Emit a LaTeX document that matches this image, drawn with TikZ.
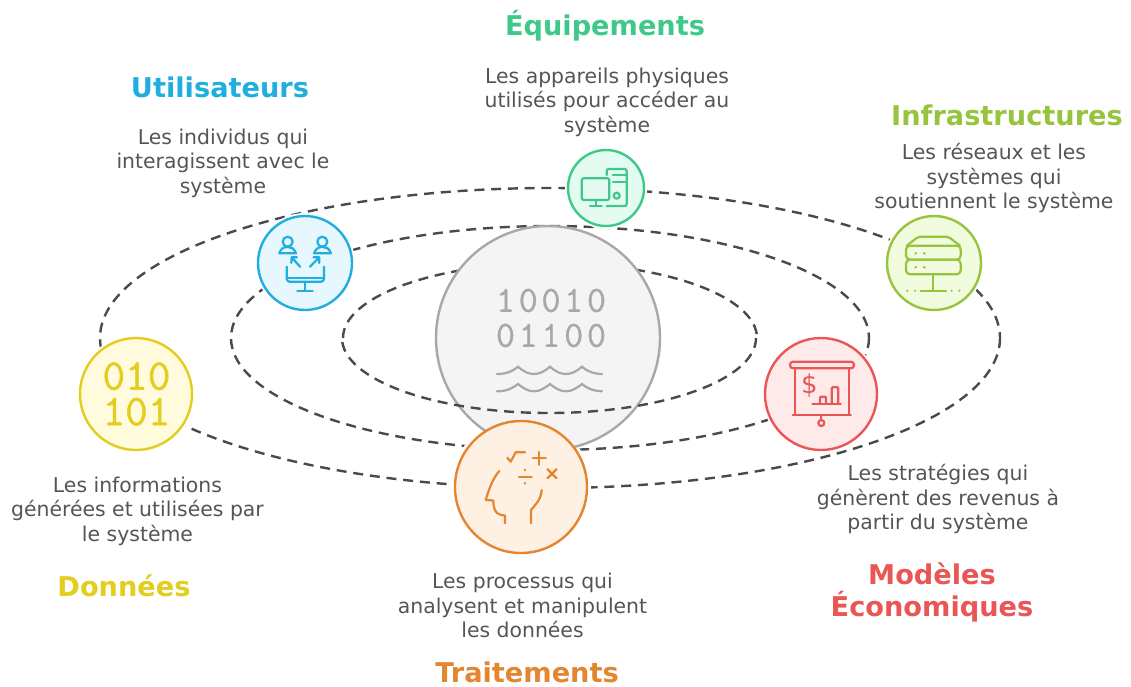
\documentclass[tikz,border=0pt]{standalone}
\usepackage{fontspec}
\setmainfont{DejaVu Sans}
\newfontfamily\digitfont[FakeBold=1]{Latin Modern Mono}
\definecolor{cgreen}{HTML}{3EC98A}
\definecolor{cblue}{HTML}{1FAEDF}
\definecolor{clime}{HTML}{96C43C}
\definecolor{cred}{HTML}{EA5555}
\definecolor{corange}{HTML}{E3862F}
\definecolor{cyellow}{HTML}{E3CD1D}
\definecolor{fgreen}{HTML}{E4FBF1}
\definecolor{fblue}{HTML}{E6F7FE}
\definecolor{flime}{HTML}{F1FCDF}
\definecolor{fred}{HTML}{FFEAEA}
\definecolor{forange}{HTML}{FFF0E4}
\definecolor{fyellow}{HTML}{FFFBDC}
\definecolor{fcore}{HTML}{F4F4F4}
\definecolor{bodygray}{HTML}{555555}
\definecolor{dashgray}{HTML}{4A4A4A}
\definecolor{centergray}{HTML}{A8A8A8}
\tikzset{
  orbit/.style={draw=dashgray,line width=2.4pt,dash pattern=on 10pt off 6.8pt},
  badge/.style={circle,inner sep=0pt,line width=2.4pt,preaction={draw=white,line width=6pt}},
  hub/.style={circle,inner sep=0pt,line width=2.4pt},
  bodytext/.style={text=bodygray,align=center,inner sep=0pt,font=\fontsize{20.4}{24.5}\selectfont},
  titletext/.style={align=center,inner sep=0pt,font=\fontsize{27.2}{32}\selectfont\bfseries},
  icon/.style={line width=2.2pt,line cap=round,line join=round,fill=none},
}
\begin{document}
\begin{tikzpicture}[x=1pt,y=-1pt]
\useasboundingbox (0,0) rectangle (1131,686);
% orbits
\draw[orbit] (550,338) ellipse [x radius=450,y radius=150];
\draw[orbit] (550,338) ellipse [x radius=319,y radius=112];
\draw[orbit] (343,338) arc [start angle=180,end angle=360,x radius=207,y radius=75];
\fill[white] (521,487) circle (70);
% centre
\node[hub,draw=centergray,fill=fcore,minimum size=224pt] (core) at (548,338) {};
\draw[orbit] (756,338) arc [start angle=0,end angle=180,x radius=207,y radius=75];
\node[text=centergray,inner sep=0pt,font={\digitfont\fontsize{37}{35}\selectfont\addfontfeature{LetterSpace=10}},align=center] (bits) at (551,318) {10010\\01100};
\draw[centergray,line width=2.2pt,line cap=round]
  (497,374) .. controls (507,374) and (513,371) .. (518,366.7)
  .. controls (524,372) and (529,374) .. (534,374)
  .. controls (540,374) and (545,371) .. (550,366.7)
  .. controls (556,372) and (561,374) .. (566,374)
  .. controls (572,374) and (577,371) .. (582,366.7)
  .. controls (588,372) and (595,374) .. (602,374);
\draw[centergray,line width=2.2pt,line cap=round]
  (497,391.3) .. controls (507,391.3) and (513,388) .. (518,384)
  .. controls (524,389) and (529,391.3) .. (534,391.3)
  .. controls (540,391.3) and (545,388) .. (550,384)
  .. controls (556,389) and (561,391.3) .. (566,391.3)
  .. controls (572,391.3) and (577,388) .. (582,384)
  .. controls (588,389) and (595,391.3) .. (602,391.3);
% badges
\node[badge,draw=cgreen,fill=fgreen,minimum size=76pt] (equip) at (606,188) {};
\node[badge,draw=cblue,fill=fblue,minimum size=94pt] (users) at (305,263) {};
\node[badge,draw=clime,fill=flime,minimum size=94pt] (infra) at (934,263) {};
\node[badge,draw=cred,fill=fred,minimum size=112pt] (model) at (821,394) {};
\node[badge,draw=cyellow,fill=fyellow,minimum size=112pt] (data) at (136,394) {};
\node[hub,draw=corange,fill=forange,minimum size=132pt] (proc) at (521,487) {};
% equipment icon
\draw[icon,cgreen,rounded corners=2pt] (581.7,178.3) rectangle (609.3,200);
\draw[icon,cgreen] (595.7,200) -- (595.7,206) (590,206) -- (601.7,206);
\draw[icon,cgreen,rounded corners=2pt] (606.7,175) -- (606.7,169) -- (626.7,169) -- (626.7,206) -- (606.7,206);
\draw[icon,cgreen] (613,175) -- (626.7,175) (613,181.7) -- (626.7,181.7);
\draw[icon,cgreen] (616.7,195.7) circle (3);
% users icon
\draw[icon,cblue] (287.7,241.7) circle (5) (322.3,241.7) circle (5);
\draw[icon,cblue] (279.3,253.3) .. controls (281,248) and (284,247) .. (287.7,247) .. controls (291,247) and (294,248) .. (296,253.3) -- cycle;
\draw[icon,cblue] (314,253.3) .. controls (316,248) and (319,247) .. (322.7,247) .. controls (326,247) and (329,248) .. (331,253.3) -- cycle;
\draw[icon,cblue] (300,266.7) -- (291.7,257.3) (291.3,263) -- (291.7,257.3) -- (297,257.3);
\draw[icon,cblue] (310,266.7) -- (319.3,257.3) (313.5,257.3) -- (319.3,257.3) -- (319.3,263);
\draw[icon,cblue,rounded corners=3pt] (286.7,266.7) -- (286.7,281.7) -- (324,281.7) -- (324,266.7);
\draw[icon,cblue] (286.7,278) -- (324,278) (305,282) -- (305,290.7) (297.3,290.7) -- (312.7,290.7);
% infrastructure icon
\draw[icon,clime,rounded corners=2pt] (906.7,245.7) -- (918.3,236.7) -- (948.3,236.7) -- (960,245.7);
\draw[icon,clime,rounded corners=4pt] (906,245.7) rectangle (960.7,259.6);
\draw[icon,clime,rounded corners=4pt] (906,259.6) rectangle (960.7,274.3);
\fill[clime] (915.7,253.3) circle (1.4) (924.3,253.3) circle (1.4) (915.7,267.3) circle (1.4) (924.3,267.3) circle (1.4)
  (907.3,290.7) circle (1.2) (915,290.7) circle (1.2) (951.7,290.7) circle (1.2) (959.3,290.7) circle (1.2);
\draw[icon,clime] (933.3,274.3) -- (933.3,290.7) (920.7,290.7) -- (946,290.7);
% model icon
\draw[icon,cred,rounded corners=3pt] (790,361.7) rectangle (854,368.3);
\draw[icon,cred] (795,368.3) -- (795,415) (849.3,368.3) -- (849.3,415) (792.7,415) -- (850.7,415);
\draw[icon,cred] (821.3,415) -- (821.3,420);
\draw[icon,cred] (821.3,423) circle (3);
\node[text=cred,inner sep=0pt,font=\fontsize{26}{26}\selectfont] (dollar) at (809.5,386) {\$};
\draw[icon,cred] (812.3,404) -- (840.7,404);
\draw[icon,cred,rounded corners=1pt] (820,404) -- (820,396.7) -- (826,396.7) -- (826,404);
\draw[icon,cred,rounded corners=1pt] (831.7,404) -- (831.7,387.3) -- (838.3,387.3) -- (838.3,404);
% data digits
\node[text=cyellow,inner sep=0pt,font={\digitfont\fontsize{44}{35.5}\selectfont},align=center] (bin) at (136.5,394) {010\\101};
% processing icon
\draw[icon,corange] (507.3,457.7) -- (510.7,461.7) -- (515.7,452.3) -- (525,452.3);
\draw[icon,corange] (532.8,458.3) -- (545.8,458.3) (539.3,451.8) -- (539.3,464.8);
\draw[icon,corange] (547.5,469.2) -- (556.5,478.2) (556.5,469.2) -- (547.5,478.2);
\draw[icon,corange] (519,477) -- (531.7,477);
\fill[corange] (525,470) circle (1.4) (525,483.3) circle (1.4);
\draw[icon,corange] (499.3,471) .. controls (493,478) and (489,489) .. (485.7,500) -- (493.3,500.5) .. controls (493.5,506) and (494,510) .. (497,513) .. controls (499,515) and (502,515) .. (505,515.5) -- (505,523.3);
\draw[icon,corange] (541.7,490) .. controls (541,500) and (535,505) .. (531,510) -- (531,523.3);
% texts
\node[titletext,text=cgreen] (t1) at (605,26) {Équipements};
\node[bodytext] (b1) at (607,102) {Les appareils physiques\\utilisés pour accéder au\\système};
\node[titletext,text=cblue] (t2) at (220,87) {Utilisateurs};
\node[bodytext] (b2) at (223,163) {Les individus qui\\interagissent avec le\\système};
\node[titletext,text=clime] (t3) at (1007,115) {Infrastructures};
\node[bodytext] (b3) at (994,178) {Les réseaux et les\\systèmes qui\\soutiennent le système};
\node[bodytext] (b4) at (938,499) {Les stratégies qui\\génèrent des revenus à\\partir du système};
\node[titletext,text=cred] (t4) at (932,592) {Modèles\\Économiques};
\node[bodytext] (b5) at (522.5,605.5) {Les processus qui\\analysent et manipulent\\les données};
\node[titletext,text=corange] (t5) at (527,672) {Traitements};
\node[bodytext] (b6) at (137.5,511) {Les informations\\générées et utilisées par\\le système};
\node[titletext,text=cyellow] (t6) at (124,586) {Données};
\end{tikzpicture}
\end{document}
